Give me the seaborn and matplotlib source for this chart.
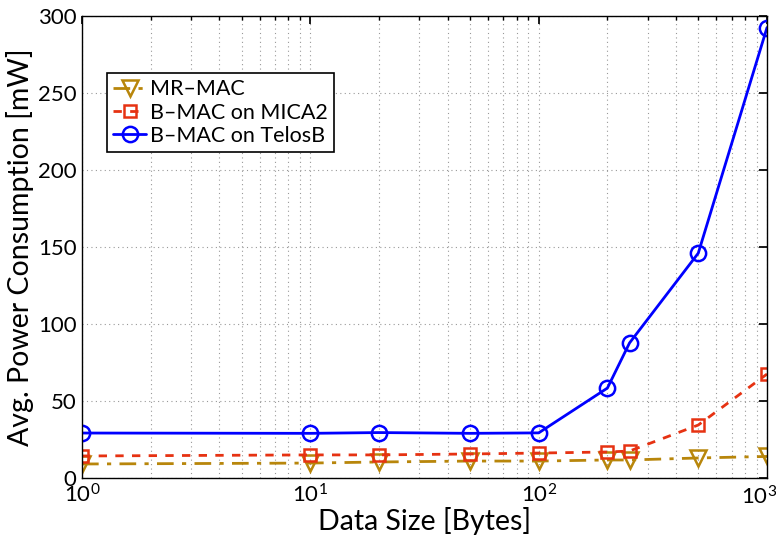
import math
import matplotlib
matplotlib.use("Agg")
import matplotlib.pyplot as plt
import seaborn as sns
import pandas as pd
from matplotlib.ticker import LogLocator, NullFormatter, FuncFormatter

# Payload sizes in bytes
data_size = [1, 10, 20, 50, 100, 200, 250, 500, 1000]

# Average power consumption in mW
mr_mac = [9.1, 9.7, 10.4, 11.0, 11.0, 11.7, 11.7, 13.0, 14.0]
bmac_mica2 = [14.3, 15.0, 15.0, 15.6, 16.2, 16.9, 17.5, 34.4, 67.5]
bmac_telosb = [29.2, 29.0, 29.5, 29.0, 29.3, 58.4, 87.7, 146.0, 292.5]

series_names = ["MR\u2013MAC", "B\u2013MAC on MICA2", "B\u2013MAC on TelosB"]

df = pd.DataFrame({
    "size": data_size * 3,
    "power": mr_mac + bmac_mica2 + bmac_telosb,
    "protocol": [series_names[0]] * 9 + [series_names[1]] * 9 + [series_names[2]] * 9,
})

sns.set_theme(style="white")
plt.rcParams["font.family"] = ["Lato", "DejaVu Sans"]
plt.rcParams["mathtext.fontset"] = "custom"
plt.rcParams["mathtext.rm"] = "Lato"
plt.rcParams["mathtext.it"] = "Lato"
plt.rcParams["mathtext.default"] = "regular"
plt.rcParams["text.color"] = "black"
plt.rcParams["axes.labelcolor"] = "black"

fig = plt.figure(figsize=(7.76, 5.4), dpi=100)
ax = fig.add_axes([82 / 776, 1 - 478 / 540, (767 - 82) / 776, (478 - 16) / 540])

styles = {
    series_names[0]: dict(color="#b8860b", marker="v", linestyle=(0, (6, 3, 1.5, 3)), size=12),
    series_names[1]: dict(color="#e63212", marker="s", linestyle=(0, (3, 3)), size=9),
    series_names[2]: dict(color="#0000ff", marker="o", linestyle="-", size=11),
}

for name in series_names:
    sub = df[df["protocol"] == name]
    st = styles[name]
    sns.lineplot(
        data=sub, x="size", y="power", ax=ax, label=name,
        color=st["color"], marker=st["marker"], linestyle=st["linestyle"],
        linewidth=2.0, markersize=st["size"],
        markerfacecolor="none", markeredgecolor=st["color"], markeredgewidth=1.8,
        estimator=None, errorbar=None,
    )

x_max = 1000
ax.set_xscale("log")
ax.set_xlim(1, x_max)
ax.set_ylim(0, 300)
ax.set_yticks([0, 50, 100, 150, 200, 250, 300])
ax.xaxis.set_minor_locator(LogLocator(base=10, subs=range(2, 10)))
ax.xaxis.set_minor_formatter(NullFormatter())


def decade_label(v, pos):
    # the rightmost decade is written separately so it stays inside the figure
    if v >= x_max:
        return ""
    return r"$10^{%d}$" % round(math.log10(v))


ax.xaxis.set_major_formatter(FuncFormatter(decade_label))
ax.annotate(
    r"$10^{3}$", xy=(x_max, 0), xycoords=("data", "axes fraction"),
    xytext=(-8, -7), textcoords="offset pixels", ha="center", va="top",
    fontsize=16, annotation_clip=False,
)

ax.grid(True, which="both", axis="both", color="#999999", linestyle=(0, (1, 3)), linewidth=0.8)
ax.tick_params(which="both", direction="in", top=True, right=True, labelsize=16, colors="black")
ax.tick_params(which="major", length=6, pad=4)
ax.tick_params(which="minor", length=3)
for s in ax.spines.values():
    s.set_color("black")
    s.set_linewidth(1.0)

ax.set_xlabel("Data Size [Bytes]", fontsize=20.5, labelpad=0)
ax.set_ylabel("Avg. Power Consumption [mW]", fontsize=20.5, labelpad=3)

leg = ax.legend(
    loc="upper left", bbox_to_anchor=(0.0365, 0.877), borderaxespad=0, fontsize=15.5,
    frameon=True, fancybox=False, edgecolor="black", framealpha=1,
    handlelength=1.5, handletextpad=0.2, borderpad=0.3, labelspacing=0.15,
)
leg.get_frame().set_linewidth(1.2)

fig.savefig("out.png", dpi=100)
